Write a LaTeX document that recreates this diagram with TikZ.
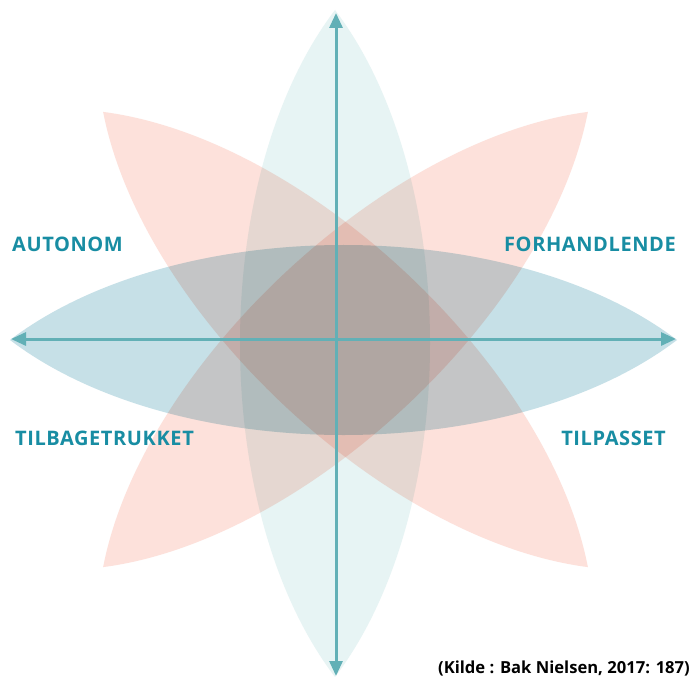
\documentclass[tikz,border=0pt]{standalone}
\usepackage{fontspec}
\setmainfont{Open Sans}
\usetikzlibrary{arrows.meta}
\definecolor{vlens}{HTML}{E7F4F4}
\definecolor{hlens}{HTML}{C6E0E7}
\definecolor{rlens}{HTML}{FDE1DB}
\definecolor{axiscol}{HTML}{62B0B6}
\definecolor{labcol}{HTML}{188DA3}
\tikzset{
  lensfill/.style={fill=#1, draw=none, blend mode=multiply},
  axisline/.style={draw=axiscol, line width=3pt, {Triangle[length=15pt,width=13pt]}-{Triangle[length=15pt,width=13pt]}},
  lab/.style={font=\fontsize{20pt}{22pt}\selectfont\bfseries\addfontfeatures{LetterSpace=3}, text=labcol, inner sep=0pt},
  src/.style={font=\fontsize{16.6pt}{18pt}\selectfont\bfseries, text=black, inner sep=0pt},
}
\newcommand{\lenspath}[2]{% half-length, half-width
  (-#1,0) .. controls ({-#1/2},{-#2/0.75}) and ({#1/2},{-#2/0.75}) .. (#1,0)
  .. controls ({#1/2},{#2/0.75}) and ({-#1/2},{#2/0.75}) .. (-#1,0) -- cycle}
\begin{document}
\begin{tikzpicture}[x=1pt,y=-1pt]
\useasboundingbox (0,0) rectangle (691,677);
\fill[white] (0,0) rectangle (691,677);
% lenses
\begin{scope}[shift={(335,343.5)}, rotate=90]
  \path[lensfill=vlens] \lenspath{333.5}{95};
\end{scope}
\begin{scope}[shift={(345.5,339.5)}, rotate=-43.2]
  \path[lensfill=rlens] \lenspath{332.5}{90};
\end{scope}
\begin{scope}[shift={(345.5,339.5)}, rotate=43.2]
  \path[lensfill=rlens] \lenspath{332.5}{90};
\end{scope}
\begin{scope}[shift={(343.5,340)}]
  \path[lensfill=hlens] \lenspath{333.5}{95};
\end{scope}
% axes
\coordinate (left) at (11,339);
\coordinate (right) at (676,339);
\coordinate (top) at (336,13);
\coordinate (bottom) at (336,676);
\draw[axisline] (left) -- (right);
\draw[axisline] (top) -- (bottom);
% labels
\node[lab, anchor=base west] (autonom) at (12,251.5) {AUTONOM};
\node[lab, anchor=base east] (forh) at (676,251.5) {FORHANDLENDE};
\node[lab, anchor=base west] (tilb) at (15,445) {TILBAGETRUKKET};
\node[lab, anchor=base east] (tilp) at (666,445) {TILPASSET};
\node[src, anchor=base east] (kilde) at (690,673) {(Kilde : Bak Nielsen, 2017: 187)};
\end{tikzpicture}
\end{document}
